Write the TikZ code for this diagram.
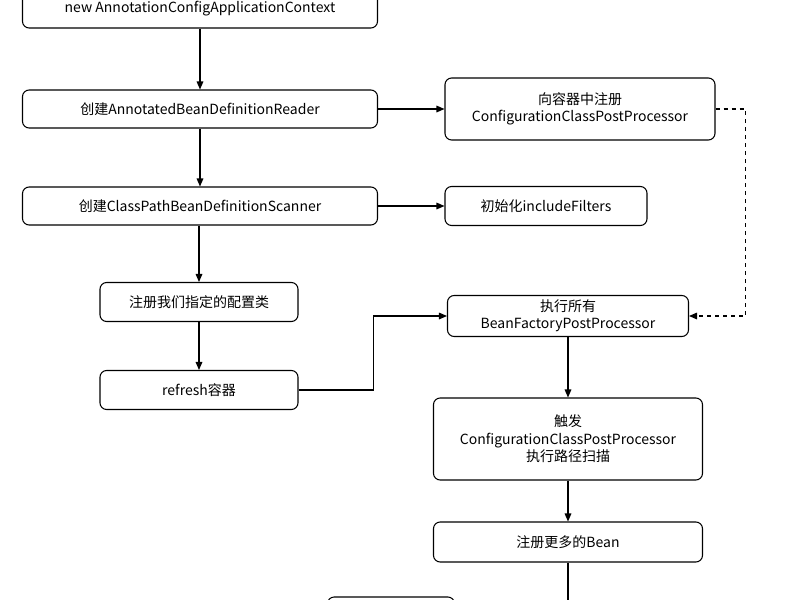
\documentclass[tikz,border=0pt]{standalone}
\usepackage{fontspec}
\setmainfont{Noto Sans CJK SC}
\usetikzlibrary{arrows.meta, positioning, calc}

\tikzset{
  stage/.style={draw, rounded corners=5pt, line width=0.8pt, align=center, font=\fontsize{10.5}{13}\selectfont, inner sep=2pt},
  flow/.style={-{Triangle[length=6pt,width=5pt]}, line width=0.8pt},
}

\begin{document}
\begin{tikzpicture}[x=0.75pt, y=-0.75pt]
\useasboundingbox (0,0) rectangle (800,600);

% left column
\node[stage, minimum width=355*0.75pt, minimum height=38*0.75pt] (ctx) at (200,9) {new AnnotationConfigApplicationContext};
\node[stage, minimum width=355*0.75pt, minimum height=38*0.75pt] (reader) at (200,109) {创建AnnotatedBeanDefinitionReader};
\node[stage, minimum width=355*0.75pt, minimum height=38*0.75pt] (scanner) at (200,206) {创建ClassPathBeanDefinitionScanner};
\node[stage, minimum width=198*0.75pt, minimum height=39*0.75pt] (config) at (199,302) {注册我们指定的配置类};
\node[stage, minimum width=198*0.75pt, minimum height=39*0.75pt] (refresh) at (199,390) {refresh容器};

% right column
\node[stage, minimum width=270*0.75pt, minimum height=62*0.75pt] (register) at (580,109) {向容器中注册\\ConfigurationClassPostProcessor};
\node[stage, minimum width=202*0.75pt, minimum height=39*0.75pt] (filters) at (546,206) {初始化includeFilters};
\node[stage, minimum width=241*0.75pt, minimum height=41*0.75pt] (bfpp) at (568,316) {执行所有\\BeanFactoryPostProcessor};
\node[stage, minimum width=269*0.75pt, minimum height=82*0.75pt] (trigger) at (568,439) {触发\\ConfigurationClassPostProcessor\\执行路径扫描};
\node[stage, minimum width=269*0.75pt, minimum height=40*0.75pt] (more) at (568,542) {注册更多的Bean};
\node[stage, minimum width=127*0.75pt, minimum height=40*0.75pt] (next) at (391,617) {};
\coordinate (down) at (568,610);

% connectors
\draw[flow] (ctx) -- (reader);
\draw[flow] (reader) -- (register);
\draw[flow] (reader) -- (scanner);
\draw[flow] (scanner) -- (filters);
\draw[flow] (scanner.south -| config) -- (config);
\draw[flow] (config) -- (refresh);
\draw[flow] (refresh.east) -- ++(75,0) |- (bfpp.west);
\draw[flow, dashed] (register.east) -- ++(30,0) |- (bfpp.east);
\draw[flow] (bfpp) -- (trigger);
\draw[flow] (trigger) -- (more);
\draw[line width=0.8pt] (more) -- (down);
\end{tikzpicture}
\end{document}
